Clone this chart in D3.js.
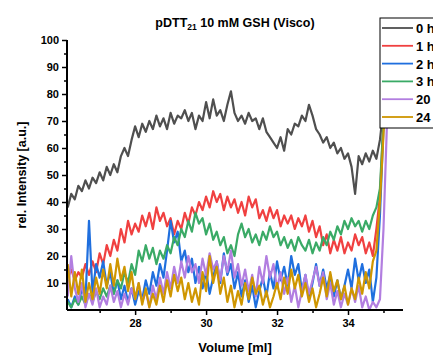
<!DOCTYPE html>
<html>
<head>
<meta charset="utf-8">
<script src="https://cdn.jsdelivr.net/npm/d3@7"></script>
<style>
  body { margin: 0; background: #fff; }
  text { font-family: "Liberation Sans", Arial, sans-serif; font-weight: bold; }
</style>
</head>
<body>
<svg id="chart" width="433" height="358"></svg>
<script>
// volume axis: one sample every 0.1 ml from 26.1 to 35.1
const volumes = d3.range(91).map(i => +(26.1 + i * 0.1).toFixed(1));

const seriesNames = ["0 h", "1 h", "2 h", "3 h", "20 h", "24 h"];
const seriesColors = ["#4f4f4f", "#f04040", "#1f6fde", "#3aaa66", "#b27ee0", "#cf9600"];

const h0 = [38,43,41,46,44,48,45,49,47,51,48,53,50,54,51,57,60,57,63,68,64,69,66,70,67,72,68,71,67,73,
  69,72,71,74,70,73,67,72,70,77,71,78,72,74,70,76,81,73,70,72,69,73,70,71,67,71,66,64,62,60,
  64,59,67,65,69,68,72,70,76,72,67,65,62,64,60,62,58,60,56,58,53,43,57,54,58,55,59,56,63,75,95];
const h1 = [12,15,11,14,12,17,13,18,14,21,17,24,20,26,22,30,25,33,28,32,29,35,31,36,30,38,33,36,31,34,
  28,33,30,36,32,38,35,40,37,42,38,44,40,43,37,42,38,41,36,40,35,42,38,41,34,37,33,38,34,37,
  31,35,32,35,30,34,31,35,29,33,27,31,24,28,21,26,22,27,21,25,22,28,24,27,21,25,20,30,42,70,95];
const h2 = [4,1,5,2,8,4,33,6,17,12,18,9,14,6,11,4,9,3,8,2,7,4,11,6,14,9,17,12,22,33,
  25,29,18,22,14,19,10,16,8,14,6,12,18,10,21,13,17,8,14,5,11,3,9,1,7,12,5,14,8,18,
  11,16,9,20,13,17,7,13,4,10,17,9,15,8,13,5,11,4,9,15,8,19,11,17,10,15,3,12,35,68,95];
const h3 = [3,1,4,2,5,2,6,3,7,4,8,5,9,6,11,8,14,10,17,13,22,18,24,19,23,17,22,19,24,21,
  27,24,30,27,33,29,36,32,34,28,32,26,29,24,27,21,24,20,28,32,27,30,25,28,24,29,26,31,27,29,
  24,27,23,26,22,27,24,22,26,21,25,22,27,24,29,26,31,28,33,30,34,31,33,29,33,30,35,38,45,70,95];
const h20 = [5,20,8,3,10,1,6,2,8,1,5,2,9,3,7,1,6,2,8,4,10,3,7,1,9,4,12,6,14,8,
  16,10,18,12,20,14,17,10,19,13,21,15,18,11,20,14,22,12,17,9,15,7,13,5,16,10,20,12,17,8,
  14,6,12,3,9,1,7,13,6,11,16,9,14,4,10,2,7,1,6,2,8,3,9,1,5,0,3,1,4,30,70];
const h24 = [17,5,14,6,15,3,10,4,12,6,15,8,17,9,19,11,16,7,14,4,10,2,8,1,6,2,9,3,11,5,
  13,7,12,4,10,3,8,2,14,7,20,10,16,6,12,3,9,1,7,2,10,4,12,6,9,2,7,1,5,10,
  4,12,6,15,8,13,5,10,3,8,1,6,12,5,14,7,11,4,9,2,8,4,12,6,14,8,18,22,40,65,95];

const seriesValues = [h0, h1, h2, h3, h20, h24];

const xTicks = [28, 30, 32, 34];
const yTicks = [10, 20, 30, 40, 50, 60, 70, 80, 90, 100];

const margin = { left: 67, top: 40, right: 30, bottom: 48 };
const width = 433, height = 358;

const svg = d3.select("#chart");

const x = d3.scaleLinear().domain([26.08, 35.55]).range([margin.left, width - margin.right]);
const y = d3.scaleLinear().domain([0, 100]).range([height - margin.bottom, margin.top]);

svg.append("defs").append("clipPath").attr("id", "plotclip")
  .append("rect")
  .attr("x", x.range()[0]).attr("y", y.range()[1] - 20)
  .attr("width", x.range()[1] - x.range()[0]).attr("height", y.range()[0] - y.range()[1] + 20);

// lines
const line = d3.line()
  .x((d, i) => x(volumes[i]))
  .y(d => y(d));

const plot = svg.append("g").attr("clip-path", "url(#plotclip)");
seriesValues.forEach((vals, k) => {
  plot.append("path")
    .datum(vals)
    .attr("fill", "none")
    .attr("stroke", seriesColors[k])
    .attr("stroke-width", 2.2)
    .attr("stroke-linejoin", "round")
    .attr("d", line);
});

// axes
const xAxis = svg.append("g").attr("transform", `translate(0,${y(0)})`)
  .call(d3.axisBottom(x).tickValues(xTicks).tickFormat(d3.format("d")).tickSize(5).tickPadding(4));
svg.append("g").attr("transform", `translate(0,${y(0)})`)
  .call(d3.axisBottom(x).tickValues([27, 29, 31, 33, 35]).tickFormat("").tickSize(3))
  .select(".domain").remove();

const yAxis = svg.append("g").attr("transform", `translate(${x(26.08)},0)`)
  .call(d3.axisLeft(y).tickValues(yTicks).tickSize(5).tickPadding(3));
svg.append("g").attr("transform", `translate(${x(26.08)},0)`)
  .call(d3.axisLeft(y).tickValues(d3.range(5, 100, 10)).tickFormat("").tickSize(3))
  .select(".domain").remove();

svg.selectAll(".domain").attr("stroke", "#000").attr("stroke-width", 2);
svg.selectAll(".tick line").attr("stroke", "#000").attr("stroke-width", 1.5);
svg.selectAll(".tick text").attr("font-size", 11).attr("fill", "#000")
  .style("font-family", "'Liberation Sans', Arial, sans-serif").style("font-weight", "bold");
xAxis.selectAll(".domain").attr("d", `M${x.range()[0]},0H${x.range()[1]}`);
yAxis.selectAll(".domain").attr("d", `M0,${y.range()[0]}V${y.range()[1]}`);

// title
const title = svg.append("text")
  .attr("x", 235).attr("y", 27)
  .attr("text-anchor", "middle")
  .attr("font-size", 12.5);
title.append("tspan").text("pDTT");
title.append("tspan").attr("font-size", 8.5).attr("dy", 3).text("21");
title.append("tspan").attr("dy", -3).text(" 10 mM GSH (Visco)");

// axis labels
svg.append("text")
  .attr("x", 235).attr("y", 352)
  .attr("text-anchor", "middle")
  .attr("font-size", 13)
  .text("Volume [ml]");

svg.append("text")
  .attr("transform", "translate(26,175) rotate(-90)")
  .attr("text-anchor", "middle")
  .attr("font-size", 12.5)
  .text("rel. Intensity [a.u.]");

// legend
const legend = svg.append("g");
legend.append("rect")
  .attr("x", 380).attr("y", 18)
  .attr("width", 80).attr("height", 110)
  .attr("fill", "#fff").attr("stroke", "#000").attr("stroke-width", 1);

seriesNames.forEach((name, i) => {
  const ly = 28 + i * 17.8;
  legend.append("line")
    .attr("x1", 382).attr("x2", 413)
    .attr("y1", ly).attr("y2", ly)
    .attr("stroke", seriesColors[i]).attr("stroke-width", 1.8);
  legend.append("text")
    .attr("x", 416).attr("y", ly + 5)
    .attr("font-size", 13)
    .text(name);
});
</script>
</body>
</html>
